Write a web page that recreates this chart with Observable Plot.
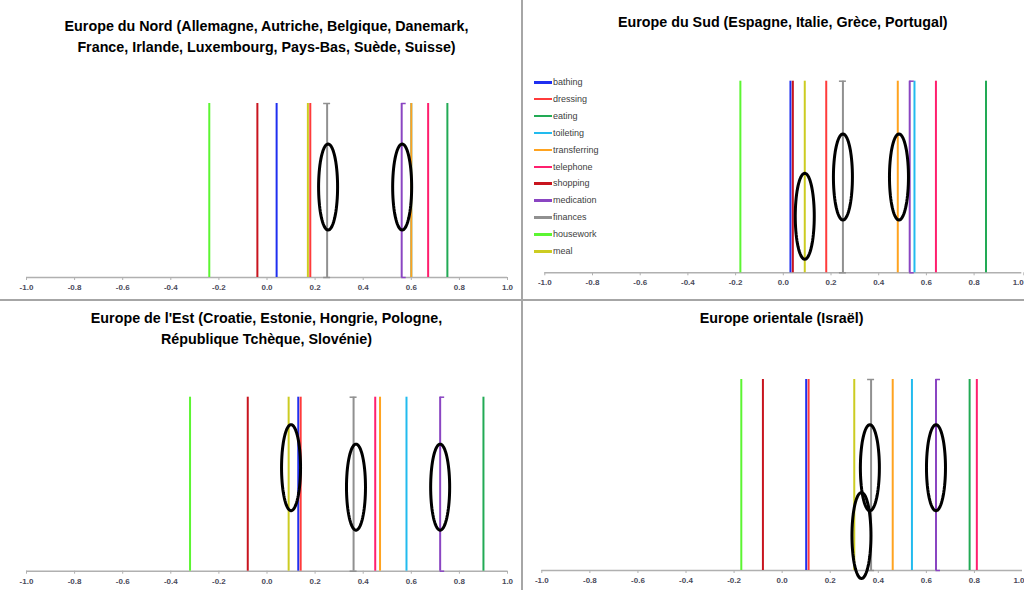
<!DOCTYPE html>
<html><head><meta charset="utf-8">
<script src="https://cdn.jsdelivr.net/npm/d3@7"></script>
<script src="https://cdn.jsdelivr.net/npm/@observablehq/plot@0.6"></script>
<style>
body{margin:0;background:#fff;width:1024px;height:590px;overflow:hidden;position:relative;}
.panel{position:absolute}
.title{position:absolute;text-align:center;font-family:"Liberation Sans",Arial,sans-serif;font-weight:bold;font-size:14.3px;line-height:21px;color:#000;white-space:nowrap}
.sep{position:absolute;background:#a6a6a6}
.legend{position:absolute;font-family:"Liberation Sans",Arial,sans-serif;font-size:9px;color:#404040}
.legend .item{position:absolute;left:0;height:12px;white-space:nowrap}
.legend .sw{position:absolute;left:0;top:5px;width:18px;height:2.5px}
.legend .lb{position:absolute;left:19px;top:0;line-height:12px}
</style></head><body>
<script>
// ---- data ----
const categories = ["bathing","dressing","eating","toileting","transferring","telephone","shopping","medication","finances","housework","meal"];
const categoryColors = ["#1f2ff0","#ff3b3b","#22aa55","#22bbee","#ffa31f","#ff1f6e","#c8141e","#8a45c2","#909090","#5cf532","#cccc22"];

const northValues  = [0.04, 0.18, 0.75, 0.60, 0.60, 0.67, -0.04, 0.56, 0.25, -0.24, 0.17];
const southValues  = [0.03, 0.18, 0.85, 0.55, 0.48, 0.64,  0.04, 0.53, 0.25, -0.18, 0.09];
const eastValues   = [0.13, 0.14, 0.90, 0.58, 0.47, 0.45, -0.08, 0.72, 0.36, -0.32, 0.09];
const israelValues = [0.10, 0.11, 0.78, 0.54, 0.46, 0.81, -0.08, 0.64, 0.37, -0.17, 0.30];

// annotation ellipses: centre on x (value) and y (fraction of line height)
const northEllipseX  = [0.254, 0.562];
const northEllipseY  = [0.52, 0.52];
const southEllipseX  = [0.09, 0.25, 0.485];
const southEllipseY  = [0.295, 0.50, 0.50];
const eastEllipseX   = [0.10, 0.37, 0.72];
const eastEllipseY   = [0.595, 0.483, 0.483];
const israelEllipseX = [0.365, 0.64, 0.33];
const israelEllipseY = [0.538, 0.538, 0.183];

const tickValues = [-1.0, -0.8, -0.6, -0.4, -0.2, 0.0, 0.2, 0.4, 0.6, 0.8, 1.0];

const northTitle  = ["Europe du Nord (Allemagne, Autriche, Belgique, Danemark,", "France, Irlande, Luxembourg, Pays-Bas, Suède, Suisse)"];
const southTitle  = ["Europe du Sud (Espagne, Italie, Grèce, Portugal)"];
const eastTitle   = ["Europe de l'Est (Croatie, Estonie, Hongrie, Pologne,", "République Tchèque, Slovénie)"];
const israelTitle = ["Europe orientale (Israël)"];

// ---- layout ----
const panels = [
  {values: northValues,  ex: northEllipseX,  ey: northEllipseY,  title: northTitle,  left: 0,   top: 90,  width: 522, height: 210, mt: 13,   mb: 23,   ml: 26,   mr: 15,  titleTop: 16},
  {values: southValues,  ex: southEllipseX,  ey: southEllipseY,  title: southTitle,  left: 522, top: 60,  width: 502, height: 240, mt: 20.7, mb: 27.7, ml: 22.3, mr: 2.7, titleTop: 11.5, legend: true, edge: true},
  {values: eastValues,   ex: eastEllipseX,   ey: eastEllipseY,   title: eastTitle,   left: 0,   top: 300, width: 522, height: 290, mt: 96.7, mb: 19.3, ml: 26,   mr: 15,  titleTop: 307.5},
  {values: israelValues, ex: israelEllipseX, ey: israelEllipseY, title: israelTitle, left: 522, top: 300, width: 502, height: 290, mt: 79,   mb: 20,   ml: 19.3, mr: 2,   titleTop: 307.5, edge: true}
];

const body = document.body;
function addSep(l, t, w, h) {
  const d = document.createElement("div");
  d.className = "sep";
  Object.assign(d.style, {left: l + "px", top: t + "px", width: w + "px", height: h + "px"});
  body.appendChild(d);
}

panels.forEach(p => {
  const pxX = (p.width - p.ml - p.mr) / 2;     // px per x unit
  const pxY = (p.height - p.mt - p.mb);        // px per y unit
  const rows = categories.map((c, i) => ({category: c, value: p.values[i], color: categoryColors[i]}));
  const fin = rows.find(r => r.category === "finances");
  const med = rows.find(r => r.category === "medication");
  const capHalf = 3.5 / pxX, capMed = 4.5 / pxX;
  const rx = 9.5 / pxX, ry = 43 / pxY;
  const ellipsePts = [];
  p.ex.forEach((cx, k) => {
    const cy = p.ey[k];
    for (let s = 0; s <= 72; s++) {
      const t = s / 72 * 2 * Math.PI;
      ellipsePts.push({id: k, x: cx + rx * Math.cos(t), y: cy + ry * Math.sin(t)});
    }
  });

  const mainTicks = p.edge ? tickValues.slice(0, -1) : tickValues;
  const edgeTicks = p.edge ? tickValues.slice(-1) : [];
  const axisOpts = {tickFormat: d => d.toFixed(1), tickSize: 3, tickPadding: 4, stroke: "#b0b0b0", fill: "#4a4a5a", label: null, fontWeight: "bold"};

  const chart = Plot.plot({
    width: p.width, height: p.height,
    marginTop: p.mt, marginBottom: p.mb, marginLeft: p.ml, marginRight: p.mr,
    x: {domain: [-1, 1]},
    y: {domain: [0, 1], axis: null},
    color: {type: "identity"},
    style: {background: "transparent", overflow: "visible", fontFamily: "'Liberation Sans', Arial, sans-serif", fontSize: "8px"},
    marks: [
      Plot.ruleY([0], {stroke: "#b0b0b0", strokeWidth: 1.5}),
      Plot.axisX({...axisOpts, ticks: mainTicks}),
      ...(edgeTicks.length ? [Plot.axisX({...axisOpts, ticks: edgeTicks, textAnchor: "end", dx: 2})] : []),
      Plot.ruleX(rows, {x: "value", y1: 0, y2: 1, stroke: "color", strokeWidth: 2}),
      Plot.ruleY([0, 1], {y: d => d, x1: fin.value - capHalf, x2: fin.value + capHalf, stroke: fin.color, strokeWidth: 1.5}),
      Plot.ruleY([0, 1], {y: d => d, x1: med.value, x2: med.value + capMed, stroke: med.color, strokeWidth: 1.5}),
      Plot.line(ellipsePts, {x: "x", y: "y", z: "id", stroke: "#000", strokeWidth: 3, curve: "linear"})
    ]
  });
  const wrap = document.createElement("div");
  wrap.className = "panel";
  Object.assign(wrap.style, {left: p.left + "px", top: p.top + "px", width: p.width + "px", height: p.height + "px"});
  wrap.appendChild(chart);
  body.appendChild(wrap);

  // title centred on the plot area
  const cx = p.left + p.ml + pxX;
  const t = document.createElement("div");
  t.className = "title";
  Object.assign(t.style, {left: (cx - 300) + "px", width: "600px", top: p.titleTop + "px"});
  t.innerHTML = p.title.map(s => s.replace(/&/g, "&amp;")).join("<br>");
  body.appendChild(t);

  if (p.legend) {
    const lg = document.createElement("div");
    lg.className = "legend";
    Object.assign(lg.style, {left: "534px", top: "76px"});
    categories.forEach((c, i) => {
      const it = document.createElement("div");
      it.className = "item";
      it.style.top = (i * 16.9) + "px";
      const sw = document.createElement("div");
      sw.className = "sw";
      sw.style.background = categoryColors[i];
      const lb = document.createElement("div");
      lb.className = "lb";
      lb.textContent = c;
      it.appendChild(sw); it.appendChild(lb);
      lg.appendChild(it);
    });
    body.appendChild(lg);
  }
});

addSep(521, 0, 2, 590);
addSep(0, 299, 1024, 2);
</script>
</body></html>
